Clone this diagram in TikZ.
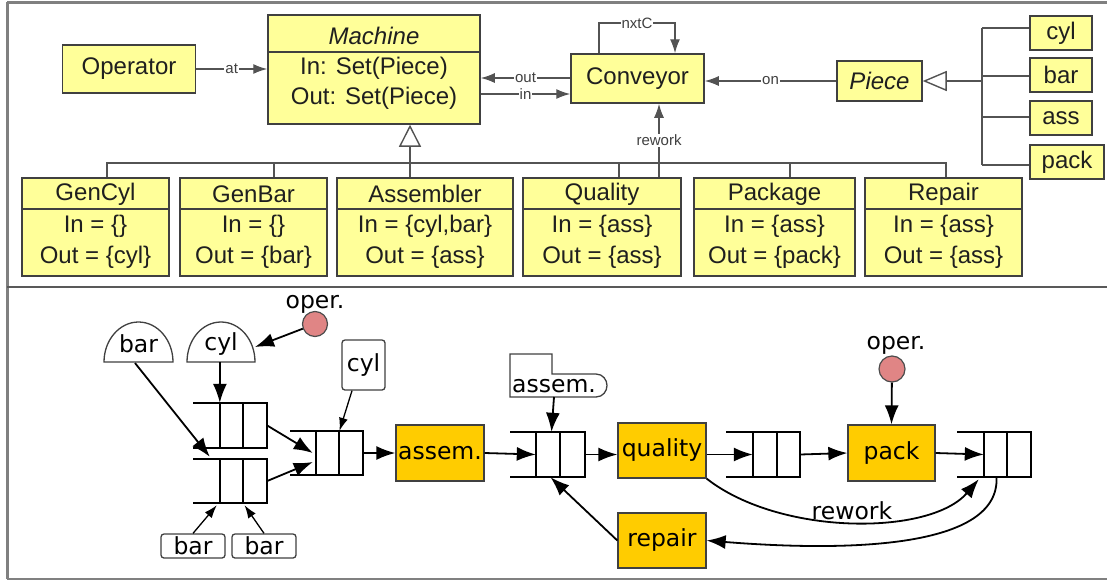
\documentclass[tikz,border=0pt]{standalone}
\usepackage{fontspec}
\setmainfont{Liberation Sans}
\newfontfamily\dejavu{DejaVu Sans}
\usetikzlibrary{arrows.meta,calc}
\definecolor{ylw}{HTML}{FFFF99}
\definecolor{org}{HTML}{FFCC00}
\definecolor{opr}{HTML}{E08585}
\definecolor{bord}{HTML}{404040}
\definecolor{frm}{HTML}{808080}
\tikzset{
 ybox/.style={draw=bord, fill=ylw, line width=1.5pt, inner sep=0pt, font=\fontsize{24}{28}\selectfont, text=black!88},
 ttxt/.style={font=\fontsize{24}{28}\selectfont, text=black!88, inner sep=0pt},
 conn/.style={draw=bord!90, line width=1.4pt},
 tarrow/.style={conn, -{Latex[length=14pt,width=10pt]}},
 lbl/.style={fill=white, inner sep=1pt, font=\fontsize{15}{17}\selectfont, text=black!75},
 obox/.style={draw=bord, fill=org, line width=1.3pt, inner sep=0pt, font=\dejavu\fontsize{23.5}{27}\selectfont},
 btxt/.style={font=\dejavu\fontsize{23.5}{27}\selectfont, inner sep=0pt},
 barr/.style={draw=black, line width=1.8pt, -{Latex[length=19pt,width=14pt]}},
 thinarr/.style={draw=black, line width=1.3pt, -{Latex[length=13pt,width=9pt]}},
 tagbox/.style={draw=black!75, rounded corners=3pt, line width=1.3pt, fill=white, inner sep=0pt, font=\dejavu\fontsize{23.5}{27}\selectfont},
 domeline/.style={draw=black!75, line width=1.3pt, fill=white},
}
\newcommand{\clsbox}[6]{%
 \node[ybox, minimum width={#3-#2}, minimum height=98pt] (#1) at ({(#2+#3)/2},227) {};
 \draw[line width=1.5pt, draw=bord] (#1.west |- 0,209) -- (#1.east |- 0,209);
 \node[ttxt] (#1-h) at ({(#2+#3)/2},194) {#4};
 \node[ttxt] (#1-i) at ({(#2+#3)/2},226) {#5};
 \node[ttxt] (#1-o) at ({(#2+#3)/2},257) {#6};
}
\newcommand{\queue}[8]{%
 \draw[line width=#8, draw=black] (#2,#6) -- (#5,#6) -- (#5,#7) -- (#2,#7) (#3,#6) -- (#3,#7) (#4,#6) -- (#4,#7);
 \node[inner sep=0pt, minimum width={#5-#3}, minimum height={#7-#6}] (#1) at ({(#3+#5)/2},{(#6+#7)/2}) {};
}
\begin{document}
\begin{tikzpicture}[x=1pt,y=-1pt]
\useasboundingbox (0,0) rectangle (1107,581);
% frame
\draw[frm, line width=3pt] (7,2) -- (1107,2);
\draw[frm, line width=3pt] (7,2) -- (7,579);
\draw[frm, line width=2.5pt] (7,579) -- (1107,579);
\draw[black!65, line width=2pt] (7,287) -- (1107,287);

% ---------- top panel ----------
\node[ybox, minimum width=133pt, minimum height=48pt] (op) at (129,69) {Operator};
\node[ybox, minimum width=212pt, minimum height=109pt] (mach) at (374,69.5) {};
\draw[line width=1.5pt, draw=bord] (mach.west |- 0,52) -- (mach.east |- 0,52);
\node[ttxt] (mach-h) at (374,36) {\itshape Machine};
\node[ttxt] (mach-i) at (374,68) {In: Set(Piece)};
\node[ttxt] (mach-o) at (374,98) {Out: Set(Piece)};
\node[ybox, minimum width=133pt, minimum height=49pt] (conv) at (637.5,78.5) {Conveyor};
\node[ybox, minimum width=85pt, minimum height=40pt] (piece) at (879.5,81) {\itshape Piece};
\node[ybox, minimum width=62pt, minimum height=34pt] (pcyl) at (1061,33) {cyl};
\node[ybox, minimum width=62pt, minimum height=34pt] (pbar) at (1061,75) {bar};
\node[ybox, minimum width=62pt, minimum height=34pt] (pass) at (1061,118) {ass};
\node[ybox, minimum width=74pt, minimum height=34pt] (ppack) at (1067,162) {pack};

\clsbox{gc}{22}{169}{GenCyl}{In = \{\}}{Out = \{cyl\}}
\clsbox{gb}{180}{327}{GenBar}{In = \{\}}{Out = \{bar\}}
\clsbox{as}{337}{513}{Assembler}{In = \{cyl,bar\}}{Out = \{ass\}}
\clsbox{ql}{523}{681}{Quality}{In = \{ass\}}{Out = \{ass\}}
\clsbox{pk}{694}{855}{Package}{In = \{ass\}}{Out = \{pack\}}
\clsbox{rp}{865}{1022}{Repair}{In = \{ass\}}{Out = \{ass\}}

% inheritance bus
\coordinate (bus) at (410,163);
\draw[conn] (gc.north -| 107,0) -- (107,163) -- (946,163) -- (rp.north -| 946,0);
\foreach \n/\x in {gb/274, as/410, ql/619, pk/790} \draw[conn] (\n.north -| \x,0) -- (\x,163);
\draw[conn, -{Triangle[length=22pt,width=22pt,fill=white]}] (bus) -- (mach.south -| bus);

% piece bus
\coordinate (pbus) at (982,81);
\draw[conn] (982,28) -- (982,165);
\draw[conn] (982,28) -- (pcyl.west |- 0,28);
\draw[conn] (982,76) -- (pbar.west |- 0,76);
\draw[conn] (982,117) -- (pass.west |- 0,117);
\draw[conn] (982,165) -- (ppack.west |- 0,165);
\draw[conn, -{Triangle[length=24pt,width=20pt,fill=white]}] (pbus) -- (piece.east);

% associations
\draw[tarrow] (op.east) -- node[lbl]{at} (mach.west |- op.east);
\draw[tarrow] (conv.west |- 0,78) -- node[lbl]{out} (mach.east |- 0,78);
\draw[tarrow] (mach.east |- 0,94) -- node[lbl]{in} (conv.west |- 0,94);
\draw[tarrow] (piece.west) -- node[lbl]{on} (conv.east |- piece.west);
\draw[tarrow] (conv.north -| 599,0) -- (599,23) -- node[lbl]{nxtC} (675,23) -- (conv.north -| 675,0);
\draw[tarrow] (ql.north -| 659,0) -- node[lbl]{rework} (conv.south -| 659,0);

% ---------- bottom panel ----------
% domes
\draw[domeline] (104,362) .. controls (104,340) and (119.5,322) .. (138.5,322) .. controls (157.5,322) and (173,340) .. (173,362) -- cycle;
\node[btxt] (bard) at (138.5,344) {bar};
\draw[domeline] (187,362) .. controls (187,340) and (202,322) .. (221,322) .. controls (240,322) and (255,340) .. (255,362) -- cycle;
\node[btxt] (cyld) at (221,344) {cyl};
\coordinate (bardB) at (135,363);
\coordinate (cyldB) at (220,362);
\coordinate (cyldR) at (255,347);

% operators
\node[circle, draw=black!70, line width=1.2pt, fill=opr, minimum size=25pt, inner sep=0pt] (oper1) at (315,324) {};
\node[btxt] (oper1l) at (315,304) {oper.};
\node[circle, draw=black!70, line width=1.2pt, fill=opr, minimum size=26pt, inner sep=0pt] (oper2) at (892,369) {};
\node[btxt] (oper2l) at (896,345) {oper.};

% tags
\node[tagbox, minimum width=43pt, minimum height=50pt] (ctag) at (363.5,365) {cyl};
\node[tagbox, minimum width=64pt, minimum height=24pt] (bt1) at (193,546) {bar};
\node[tagbox, minimum width=64pt, minimum height=24pt] (bt2) at (264,546) {bar};
\draw[domeline] (510,354) -- (552,354) -- (552,374) -- (596,374) .. controls (603,374) and (607,380) .. (607,385.5) .. controls (607,391) and (603,397) .. (596,397) -- (510,397) -- cycle;
\node[btxt] (atag) at (554,386) {assem.};
\coordinate (atagB) at (554,397);

% queues
\queue{q1}{193}{220}{243}{267}{403}{448}{2.6pt}
\queue{q2}{193}{220}{243}{267}{459}{503}{1.8pt}
\queue{q3}{290}{316}{339}{363}{431}{475}{1.8pt}
\queue{q4}{510}{536}{560}{585}{432}{477}{1.8pt}
\queue{q5}{726}{753}{777}{800}{432}{477}{1.8pt}
\queue{q6}{957}{984}{1007}{1031}{432}{477}{1.8pt}

% machines
\node[obox, minimum width=88pt, minimum height=56pt] (assem) at (440,453) {assem.};
\node[obox, minimum width=88pt, minimum height=55pt] (quality) at (662,450.5) {quality};
\node[obox, minimum width=87pt, minimum height=56pt] (pack) at (891.5,453) {pack};
\node[obox, minimum width=88pt, minimum height=55pt] (repair) at (662,540.5) {repair};

% flows
\draw[barr] (oper1) -- (cyldR);
\draw[barr] (cyldB) -- (q1.north west);
\draw[barr] (bardB) -- ($(q2.north west)+(-10,-2)$);
\draw[thinarr] (bt1.north) -- ($(q2.south west)+(-3,2)$);
\draw[thinarr] (bt2.north) -- ($(q2.south)+(1,2)$);
\draw[thinarr] (ctag.south -| 352,0) -- (q3.north);
\draw[barr] (q1.east) -- ($(q3.west)+(-3,0)$);
\draw[barr] (q2.east) -- ($(q3.west)+(-3,9)$);
\draw[barr] (q3.east) -- (assem.west);
\draw[barr] (assem.east) -- (q4.west);
\draw[barr] (atagB) -- ($(q4.north)+(-9,0)$);
\draw[barr] (q4.east) -- (quality.west |- q4.east);
\draw[barr] (quality.east |- q5.west) -- (q5.west);
\draw[barr] (q5.east) -- (pack.west);
\draw[barr] (oper2) -- (pack.north);
\draw[barr] (pack.east) -- (q6.west);
\draw[barr] (quality.south east) .. controls (780,536) and (930,536) .. node[pos=0.5, btxt, anchor=south, yshift=1pt] (rwl) {rework} ($(q6.south west)+(-5,2)$);
\draw[barr] ($(q6.south)+(-11,0)$) .. controls (1000,548) and (850,552) .. (repair.east);
\draw[barr] (repair.west) -- ($(q4.south)+(-10,0)$);
\end{tikzpicture}
\end{document}
